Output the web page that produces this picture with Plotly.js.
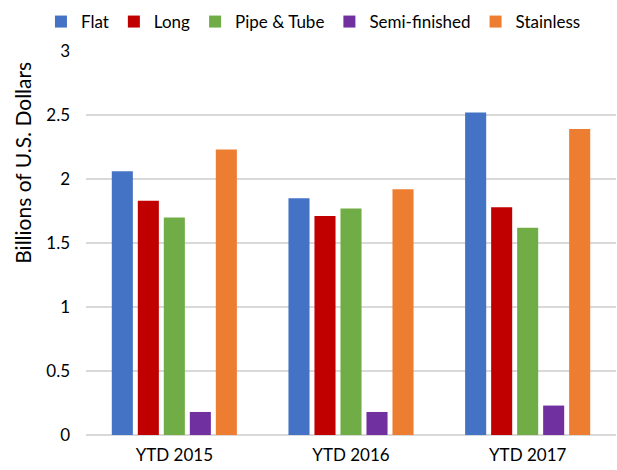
<!DOCTYPE html>
<html>
<head>
<meta charset="utf-8">
<script src="https://cdn.plot.ly/plotly-3.0.1.min.js"></script>
<style>html,body{margin:0;padding:0;background:#fff;}#chart{width:617px;height:470px;}</style>
</head>
<body>
<div id="chart"></div>
<script>
var categories = ["YTD 2015", "YTD 2016", "YTD 2017"];
var seriesNames = ["Flat", "Long", "Pipe & Tube", "Semi-finished", "Stainless"];
var flat = [2.06, 1.85, 2.52];
var long = [1.83, 1.71, 1.78];
var pipeTube = [1.70, 1.77, 1.62];
var semiFinished = [0.18, 0.18, 0.23];
var stainless = [2.23, 1.92, 2.39];
var yTickVals = [0, 0.5, 1, 1.5, 2, 2.5, 3];
var yTickText = ["0", "0.5", "1", "1.5", "2", "2.5", "3"];
var yTitle = "Billions of U.S. Dollars";

var colors = ["#4472C4", "#C00000", "#70AD47", "#7030A0", "#ED7D31"];
var values = [flat, long, pipeTube, semiFinished, stainless];
var FONT = "Lato, 'Open Sans', sans-serif";

var traces = seriesNames.map(function (name, i) {
  return {
    type: "bar",
    name: name,
    x: categories,
    y: values[i],
    marker: { color: colors[i] },
    hoverinfo: "x+y+name"
  };
});

var layout = {
  width: 617,
  height: 470,
  margin: { l: 86, r: 1, t: 51, b: 35, autoexpand: false },
  paper_bgcolor: "#ffffff",
  plot_bgcolor: "#ffffff",
  font: { family: FONT, size: 17, color: "#000000" },
  barmode: "group",
  bargap: 0.264,
  bargroupgap: 0.19,
  showlegend: true,
  legend: {
    orientation: "h",
    xref: "paper",
    yref: "paper",
    x: -0.085,
    xanchor: "left",
    y: 1.0755,
    yanchor: "middle",
    font: { family: FONT, size: 17, color: "#000000" },
    itemwidth: 30,
    traceorder: "normal",
    bgcolor: "rgba(0,0,0,0)"
  },
  xaxis: {
    type: "category",
    showgrid: false,
    showline: false,
    ticks: "",
    ticklabelstandoff: 8,
    tickfont: { family: FONT, size: 17, color: "#000000" }
  },
  yaxis: {
    range: [0, 3],
    tickvals: yTickVals,
    ticktext: yTickText,
    showgrid: true,
    gridcolor: "#D9D9D9",
    gridwidth: 1.3,
    zeroline: true,
    zerolinecolor: "#D9D9D9",
    zerolinewidth: 1.3,
    showline: false,
    ticks: "",
    ticklabelstandoff: 15,
    tickfont: { family: FONT, size: 17, color: "#000000" }
  },
  annotations: [{
    text: yTitle,
    xref: "paper",
    yref: "paper",
    x: -0.12,
    y: 0.71,
    xanchor: "center",
    yanchor: "middle",
    textangle: -90,
    showarrow: false,
    font: { family: FONT, size: 21, color: "#000000" }
  }]
};

Plotly.newPlot("chart", traces, layout, { displayModeBar: false, staticPlot: true });
</script>
</body>
</html>
